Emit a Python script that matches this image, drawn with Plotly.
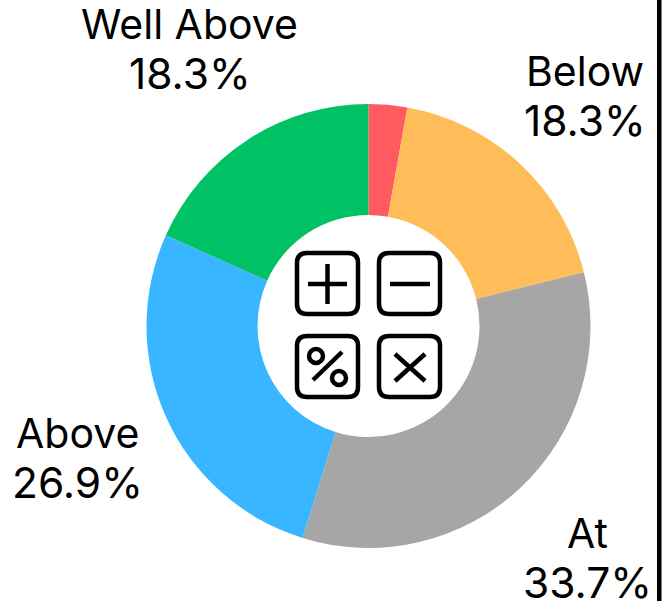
import plotly.graph_objects as go

W, H = 664, 601
categories = ["Well Below", "Below", "At", "Above", "Well Above"]
values = [2.8, 18.3, 33.7, 26.9, 18.3]
colors = ["#FF5A5F", "#FFBD59", "#A6A6A6", "#38B6FF", "#00C264"]
shown = [False, True, True, True, True]
label_xy = [None, (585, 71), (587, 533), (77, 433), (189.5, 24)]
LINE_GAP = 49
FONT = "Inter, sans-serif"
FONT_SIZE = 41
PERCENT_SIZE = 42.5

CX, CY, R = 368.5, 326, 222

def px(x):
    return x / W

def py(y):
    return 1 - y / H

fig = go.Figure(go.Pie(
    labels=categories,
    values=values,
    hole=0.5,
    sort=False,
    direction="clockwise",
    rotation=0,
    marker=dict(colors=colors, line=dict(width=0)),
    textinfo="none",
    hoverinfo="label+percent",
    domain=dict(x=[px(CX - R), px(CX + R)], y=[py(CY + R), py(CY - R)]),
    showlegend=False,
))

annotations = []
for c, v, s, xy in zip(categories, values, shown, label_xy):
    if s:
        for text, dy, size in ((c, 0, FONT_SIZE), (f"{v}%", LINE_GAP, PERCENT_SIZE)):
            annotations.append(dict(
                x=px(xy[0]), y=py(xy[1] + dy), xref="paper", yref="paper",
                text=text, showarrow=False, align="center",
                xanchor="center", yanchor="middle",
                font=dict(family=FONT, size=size, color="#000000"),
            ))

def rrect(x0, y0, x1, y1, r):
    return (f"M{x0+r},{y0} L{x1-r},{y0} Q{x1},{y0} {x1},{y0+r} L{x1},{y1-r} Q{x1},{y1} {x1-r},{y1} "
            f"L{x0+r},{y1} Q{x0},{y1} {x0},{y1-r} L{x0},{y0+r} Q{x0},{y0} {x0+r},{y0} Z")

def line(x0, y0, x1, y1):
    return f"M{x0},{y0} L{x1},{y1}"

def circ(cx, cy, r):
    k = 0.5523 * r
    return (f"M{cx-r},{cy} C{cx-r},{cy-k} {cx-k},{cy-r} {cx},{cy-r} C{cx+k},{cy-r} {cx+r},{cy-k} {cx+r},{cy} "
            f"C{cx+r},{cy+k} {cx+k},{cy+r} {cx},{cy+r} C{cx-k},{cy+r} {cx-r},{cy+k} {cx-r},{cy} Z")

# Calculator icon in the hole, drawn in a pixel-sized axis range
icon = [
    rrect(297, 253, 358, 314, 10), rrect(379, 253, 440, 314, 10),
    rrect(297, 336, 358, 397, 10), rrect(379, 336, 440, 397, 10),
    line(308, 284, 347, 284), line(327.5, 264, 327.5, 304),
    line(390, 284, 430, 284),
    line(313, 380, 342, 352), circ(316, 356, 7), circ(339, 378, 7),
    line(395, 354, 425, 381), line(425, 354, 395, 381),
]
shapes = [dict(type="path", xref="x", yref="y", path=p,
               line=dict(color="#000000", width=4.5), fillcolor="rgba(0,0,0,0)") for p in icon]
shapes.append(dict(type="rect", xref="x", yref="y", x0=657, x1=661.5, y0=0, y1=601,
                   fillcolor="#000000", line=dict(width=0)))

fig.update_layout(
    width=W, height=H, margin=dict(l=0, r=0, t=0, b=0),
    paper_bgcolor="#FFFFFF", plot_bgcolor="rgba(0,0,0,0)",
    font=dict(family=FONT),
    annotations=annotations, shapes=shapes,
    xaxis=dict(range=[0, W], visible=False, fixedrange=True),
    yaxis=dict(range=[H, 0], visible=False, fixedrange=True),
)
fig.write_html("out.html", config=dict(displayModeBar=False),
               post_script="document.body.style.margin='0';document.body.style.overflow='hidden';")
